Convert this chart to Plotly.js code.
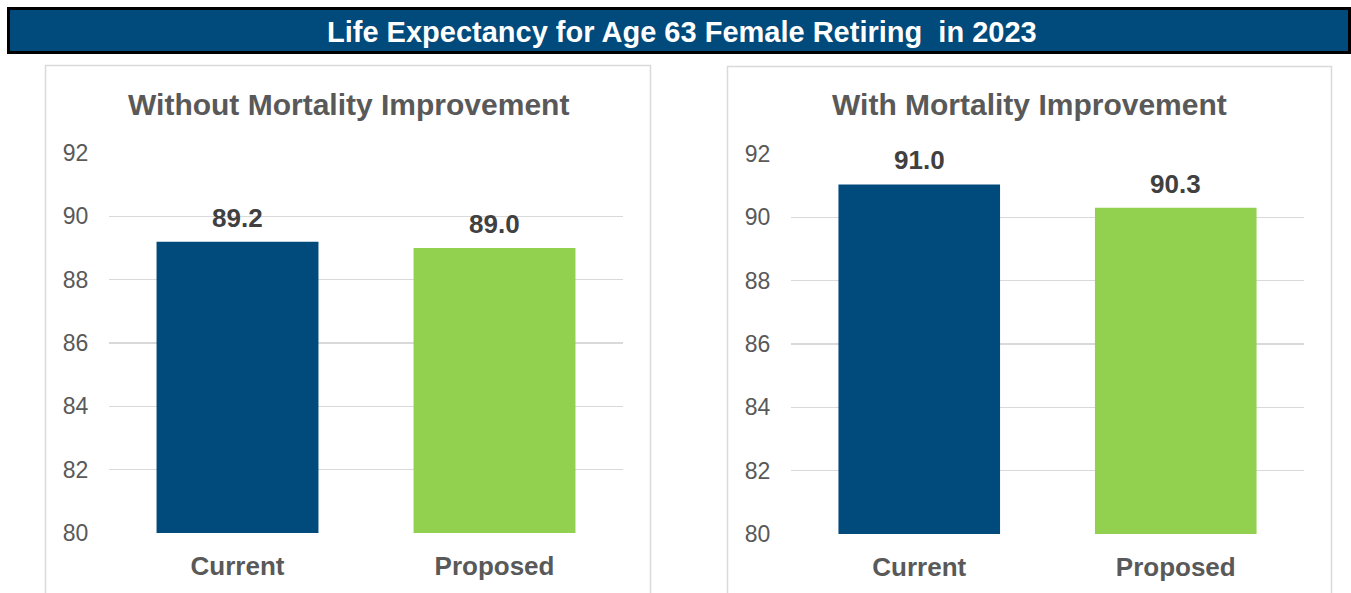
<!DOCTYPE html>
<html>
<head>
<meta charset="utf-8">
<script src="https://cdn.plot.ly/plotly-3.0.1.min.js"></script>
<style>
  html, body { margin: 0; padding: 0; background: #fff; }
  #chart { width: 1351px; height: 593px; }
</style>
</head>
<body>
<div id="chart"></div>
<script>
const mainTitle = "Life Expectancy for Age 63 Female Retiring\u00a0 in 2023";
const panelTitles = ["Without Mortality Improvement", "With Mortality Improvement"];
const categories = ["Current", "Proposed"];
const withoutImprovement = [89.2, 89.0];
const withImprovement = [91.04, 90.3];
const barColors = ["#004A7C", "#92D050"];
const yTicks = [80, 82, 84, 86, 88, 90, 92];

const W = 1351, H = 593;
const px = x => x / W;
const py = y => 1 - y / H;

const font = "Liberation Sans, Arial, sans-serif";
const grey = "#595959";

function barTrace(vals, xa, ya) {
  return {
    type: "bar",
    x: categories,
    y: vals,
    xaxis: xa,
    yaxis: ya,
    width: 0.63,
    marker: { color: barColors },
    hoverinfo: "x+y",
    cliponaxis: false
  };
}

function valueLabels(vals, xa, ya) {
  return vals.map((v, i) => ({
    x: categories[i], y: v, xref: xa, yref: ya,
    text: v.toFixed(1), showarrow: false,
    yanchor: "bottom", yshift: 7,
    font: { family: font, size: 26, color: "#404040", weight: "bold" }
  }));
}

function xAxis(dom) {
  return {
    domain: dom, range: [-0.5, 1.5], type: "category",
    showgrid: false, showline: false, zeroline: false,
    ticks: "outside", ticklen: 10, tickcolor: "rgba(0,0,0,0)",
    tickfont: { family: font, size: 26, color: grey, weight: "bold" },
    fixedrange: true
  };
}

function yAxis(dom, anchor) {
  return {
    domain: dom, range: [80, 92], anchor: anchor,
    tickvals: yTicks, ticktext: yTicks.map(String),
    showgrid: true, gridcolor: "#d9d9d9", gridwidth: 1.5,
    showline: false, zeroline: false,
    ticks: "outside", ticklen: 15, tickcolor: "rgba(0,0,0,0)",
    tickfont: { family: font, size: 23, color: grey },
    fixedrange: true
  };
}

const traces = [
  barTrace(withoutImprovement, "x", "y"),
  barTrace(withImprovement, "x2", "y2")
];

const layout = {
  width: W, height: H,
  margin: { l: 0, r: 0, t: 0, b: 0 },
  paper_bgcolor: "#fff", plot_bgcolor: "rgba(0,0,0,0)",
  showlegend: false,
  bargap: 0.37,
  xaxis: xAxis([px(109), px(623)]),
  yaxis: yAxis([py(533), py(153)], "x"),
  xaxis2: Object.assign(xAxis([px(791), px(1304)]), { anchor: "y2" }),
  yaxis2: yAxis([py(534), py(154)], "x2"),
  shapes: [
    { type: "rect", xref: "paper", yref: "paper", layer: "below",
      x0: px(8.5), x1: px(1349.5), y0: py(52.5), y1: py(8.5),
      fillcolor: "#004A7C", line: { color: "#000", width: 3 } },
    { type: "rect", xref: "paper", yref: "paper", layer: "below",
      x0: px(45.5), x1: px(650.5), y0: -0.1, y1: py(65.5),
      fillcolor: "rgba(0,0,0,0)", line: { color: "#d9d9d9", width: 1.5 } },
    { type: "rect", xref: "paper", yref: "paper", layer: "below",
      x0: px(727.5), x1: px(1331.5), y0: -0.1, y1: py(66.5),
      fillcolor: "rgba(0,0,0,0)", line: { color: "#d9d9d9", width: 1.5 } }
  ],
  annotations: [
    { x: px(682), y: py(32), xref: "paper", yref: "paper", showarrow: false,
      text: mainTitle, xanchor: "center", yanchor: "middle",
      font: { family: font, size: 29, color: "#fff", weight: "bold" } },
    { x: px(348), y: py(104), xref: "paper", yref: "paper", showarrow: false,
      text: panelTitles[0], xanchor: "center", yanchor: "middle",
      font: { family: font, size: 30, color: grey, weight: "bold" } },
    { x: px(1029), y: py(104), xref: "paper", yref: "paper", showarrow: false,
      text: panelTitles[1], xanchor: "center", yanchor: "middle",
      font: { family: font, size: 30, color: grey, weight: "bold" } }
  ].concat(valueLabels(withoutImprovement, "x", "y"), valueLabels(withImprovement, "x2", "y2"))
};

Plotly.newPlot("chart", traces, layout, { displayModeBar: false, staticPlot: true });
</script>
</body>
</html>
